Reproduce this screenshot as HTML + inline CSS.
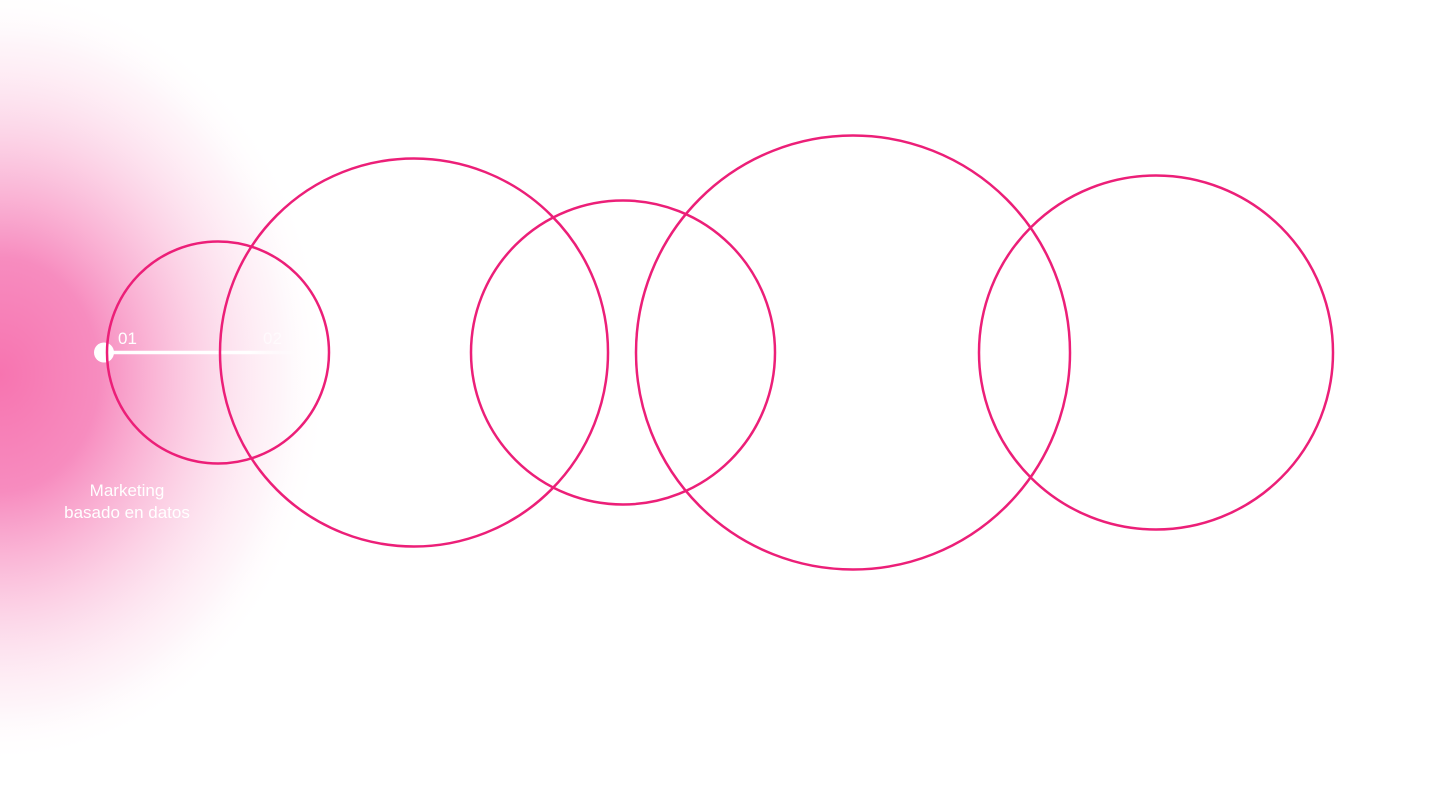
<!DOCTYPE html>
<html><head><meta charset="utf-8"><style>
html,body{margin:0;padding:0;width:1440px;height:794px;overflow:hidden;background:#fff}
svg{display:block}
text{font-family:"Liberation Sans",sans-serif;fill:#fff}
</style></head><body>
<svg width="1440" height="794" viewBox="0 0 1440 794">
<defs>
<radialGradient id="g" cx="0" cy="375" r="1" gradientUnits="userSpaceOnUse" gradientTransform="translate(0 375) scale(330 390) translate(0 -375)">
<stop offset="0" stop-color="#f774b0"/>
<stop offset="0.3" stop-color="#f78cbf"/>
<stop offset="0.6" stop-color="#fbc6df" stop-opacity="0.8"/>
<stop offset="0.85" stop-color="#fde8f2" stop-opacity="0.45"/>
<stop offset="1" stop-color="#fff" stop-opacity="0"/>
</radialGradient>
<linearGradient id="l" x1="104" x2="300" y1="0" y2="0" gradientUnits="userSpaceOnUse">
<stop offset="0" stop-color="#fff"/><stop offset="0.75" stop-color="#fff"/><stop offset="1" stop-color="#fff" stop-opacity="0"/>
</linearGradient>
</defs>
<rect width="1440" height="794" fill="#fff"/>
<ellipse cx="0" cy="375" rx="330" ry="390" fill="url(#g)"/>
<line x1="104" y1="352.5" x2="300" y2="352.5" stroke="url(#l)" stroke-width="3.5"/>
<circle cx="104" cy="352.5" r="10" fill="#fff"/>
<text x="118" y="344" font-size="17">01</text>
<text x="263" y="344" font-size="17" fill-opacity="0.6" style="fill:#fff">02</text>
<text x="127" y="496" font-size="17" text-anchor="middle">Marketing</text>
<text x="127" y="518" font-size="17" text-anchor="middle">basado en datos</text>
<g fill="none" stroke="#ec1f78" stroke-width="2.5">
<circle cx="218" cy="352.5" r="111"/>
<circle cx="414" cy="352.5" r="194"/>
<circle cx="623" cy="352.5" r="152"/>
<circle cx="853" cy="352.5" r="217"/>
<circle cx="1156" cy="352.5" r="177"/>
</g>
</svg>
</body></html>
